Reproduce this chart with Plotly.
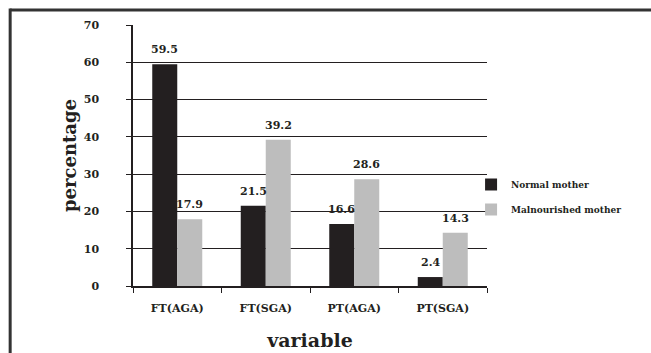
import plotly.graph_objects as go

categories = ["FT(AGA)", "FT(SGA)", "PT(AGA)", "PT(SGA)"]
normal = [59.5, 21.5, 16.6, 2.4]
malnourished = [17.9, 39.2, 28.6, 14.3]
series_names = ["Normal mother", "Malnourished mother"]
colors = ["#231f20", "#bdbdbd"]

FONT = "DejaVu Serif"
INK = "#231f20"

fig = go.Figure()
for i, (name, vals, col) in enumerate(zip(series_names, [normal, malnourished], colors)):
    fig.add_trace(go.Bar(
        x=categories, y=vals, name=name, marker_color=col,
        marker_line_width=0, legendgroup=f"g{i}",
    ))

# value labels above bars
annotations = []
for vals, shift in [(normal, -12.5), (malnourished, 12.5)]:
    for c, v in zip(categories, vals):
        annotations.append(dict(
            x=c, y=v, xref="x", yref="y", text=f"{v:.1f}", showarrow=False,
            xshift=shift, yshift=6, yanchor="bottom",
            font=dict(family=FONT, size=11, color=INK, weight="bold"),
        ))

fig.update_layout(
    width=651, height=353,
    margin=dict(l=133, r=164, t=25, b=67, autoexpand=False),
    paper_bgcolor="white", plot_bgcolor="white",
    barmode="group", bargap=0.435, bargroupgap=0,
    font=dict(family=FONT, color=INK),
    showlegend=True,
    legend=dict(x=0.955, y=0.341, xanchor="left", yanchor="middle",
                bgcolor="rgba(0,0,0,0)",
                font=dict(family=FONT, size=9, color=INK, weight="bold"),
                itemwidth=30, tracegroupgap=6),
    annotations=annotations,
    xaxis=dict(
        showline=True, linecolor=INK, linewidth=1.5,
        ticks="outside", ticklen=5, tickcolor=INK, tickwidth=1.2, tickson="boundaries",
        ticklabelstandoff=11,
        tickfont=dict(family=FONT, size=11, color=INK, weight="bold"),
        title=dict(text="variable", font=dict(family=FONT, size=19, color=INK, weight="bold"), standoff=20),
        showgrid=False,
    ),
    yaxis=dict(
        range=[0, 70], dtick=10,
        showline=True, linecolor=INK, linewidth=1.5,
        ticks="outside", ticklen=5, tickcolor=INK, tickwidth=1.2,
        ticklabelstandoff=25,
        showgrid=True, gridcolor=INK, gridwidth=1,
        zeroline=False,
        tickfont=dict(family=FONT, size=11, color=INK, weight="bold"),
        title=dict(text="percentage", font=dict(family=FONT, size=18, color=INK, weight="bold"), standoff=2),
    ),
    shapes=[
        dict(type="line", xref="paper", yref="paper", x0=-0.347, x1=1.6, y0=1.057, y1=1.057,
             line=dict(color="#333333", width=3)),
        dict(type="line", xref="paper", yref="paper", x0=-0.347, x1=-0.347, y0=1.063, y1=-0.4,
             line=dict(color="#333333", width=3)),
    ],
)

fig.write_html("out.html")
